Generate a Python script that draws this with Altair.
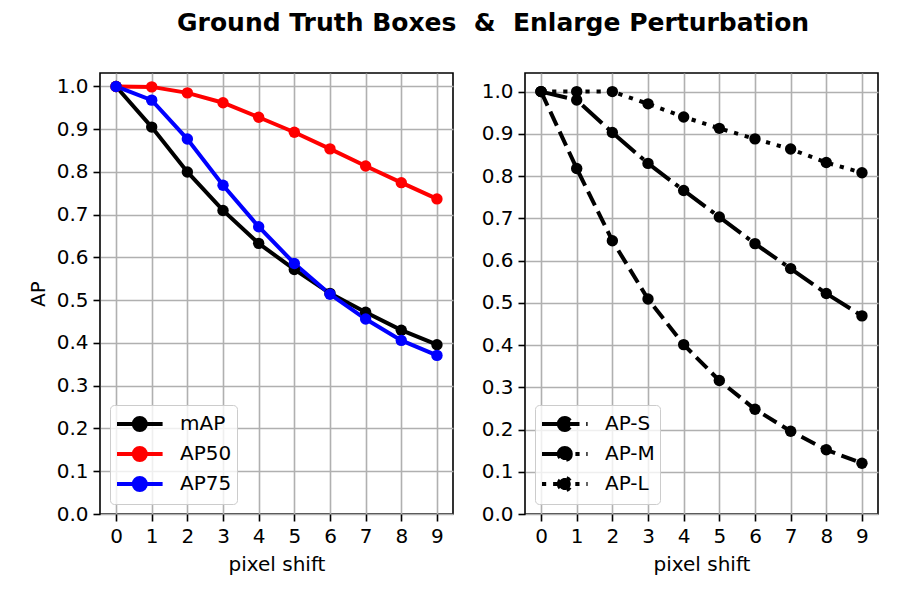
import altair as alt
import pandas as pd

shifts = list(range(10))

left_series = ["mAP", "AP50", "AP75"]
left_colors = ["black", "red", "blue"]
mAP = [1.0, 0.905, 0.80, 0.71, 0.633, 0.572, 0.516, 0.472, 0.430, 0.396]
AP50 = [1.0, 0.999, 0.985, 0.962, 0.928, 0.893, 0.854, 0.814, 0.775, 0.737]
AP75 = [1.0, 0.968, 0.877, 0.769, 0.672, 0.586, 0.514, 0.456, 0.406, 0.371]

right_series = ["AP-S", "AP-M", "AP-L"]
AP_S = [1.0, 0.818, 0.647, 0.509, 0.401, 0.316, 0.248, 0.196, 0.152, 0.120]
AP_M = [1.0, 0.980, 0.903, 0.830, 0.766, 0.703, 0.640, 0.581, 0.522, 0.469]
AP_L = [1.0, 1.0, 1.0, 0.971, 0.940, 0.913, 0.888, 0.864, 0.832, 0.808]

y_ticks = [round(i * 0.1, 1) for i in range(11)]

def long(names, arrays):
    rows = []
    for n, arr in zip(names, arrays):
        for s, v in zip(shifts, arr):
            rows.append({"shift": s, "ap": v, "series": n})
    return pd.DataFrame(rows)

df_left = long(left_series, [mAP, AP50, AP75])
df_right = long(right_series, [AP_S, AP_M, AP_L])

FONT = "DejaVu Sans"
SYM = "M-1,0H2.8M0.4,0A0.5,0.5,0,1,1,1.4,0A0.5,0.5,0,1,1,0.4,0Z"

def legend():
    return alt.Legend(
        title=None, orient="bottom-left", offset=10,
        symbolType=SYM, symbolSize=576, symbolStrokeWidth=4,
        symbolFillColor="black", symbolOpacity=1,
        labelFontSize=20, labelFont=FONT, labelColor="black",
        labelOffset=37, rowPadding=0, padding=5,
        fillColor="rgba(255,255,255,0.8)", strokeColor="#cccccc",
        cornerRadius=4,
    )

def xenc():
    return alt.X("shift:Q",
                 scale=alt.Scale(domain=[-0.45, 9.45], nice=False, zero=False),
                 axis=alt.Axis(values=shifts, title="pixel shift", format="d"))

def yenc(top, title):
    ax = alt.Axis(values=y_ticks, format=".1f", title=title) if title else alt.Axis(values=y_ticks, format=".1f", title=None)
    return alt.Y("ap:Q", scale=alt.Scale(domain=[0, top], nice=False, zero=True), axis=ax)

W, H = 353, 441

lb = alt.Chart(df_left)
left_line = lb.mark_line(strokeWidth=4).encode(
    x=xenc(), y=yenc(1.0315, "AP"),
    color=alt.Color("series:N", scale=alt.Scale(domain=left_series, range=left_colors), legend=legend()),
    detail="series:N",
)
left_pts = lb.mark_circle(size=130, opacity=1).encode(
    x=xenc(), y=yenc(1.0315, "AP"),
    color=alt.Color("series:N", scale=alt.Scale(domain=left_series, range=left_colors), legend=None),
)
left = alt.layer(left_line, left_pts).properties(width=W, height=H)

rb = alt.Chart(df_right)
right_line = rb.mark_line(strokeWidth=4, color="black").encode(
    x=xenc(), y=yenc(1.044, None),
    strokeDash=alt.StrokeDash("series:N",
                              scale=alt.Scale(domain=right_series,
                                              range=[[15.4, 6.7], [26.7, 6.7, 4.2, 6.7], [4.2, 6.9]]),
                              legend=legend()),
)
right_pts = rb.mark_circle(size=130, opacity=1, color="black").encode(
    x=xenc(), y=yenc(1.044, None), detail="series:N",
)
right = alt.layer(right_line, right_pts).properties(width=W, height=H)

chart = alt.hconcat(left, right, spacing=26).resolve_scale(
    color="independent", strokeDash="independent", y="independent"
).properties(
    title=alt.TitleParams("Ground Truth Boxes \u00a0&\u00a0 Enlarge Perturbation",
                          fontSize=25, fontWeight="bold", font=FONT, color="black",
                          anchor="middle", dx=40, offset=36),
    padding={"left": 19, "top": 3, "right": 2, "bottom": 5},
).configure_view(
    stroke="black", strokeWidth=1.6
).configure_axis(
    labelFont=FONT, titleFont=FONT, labelFontSize=20, titleFontSize=20,
    labelColor="black", titleColor="black", titleFontWeight="normal",
    domain=False, tickColor="black", tickWidth=1.6, tickSize=7,
    gridColor="#b0b0b0", gridWidth=1.6, labelPadding=5, titlePadding=8,
)

chart.save("out.html", embed_options={"renderer": "svg", "actions": False})
